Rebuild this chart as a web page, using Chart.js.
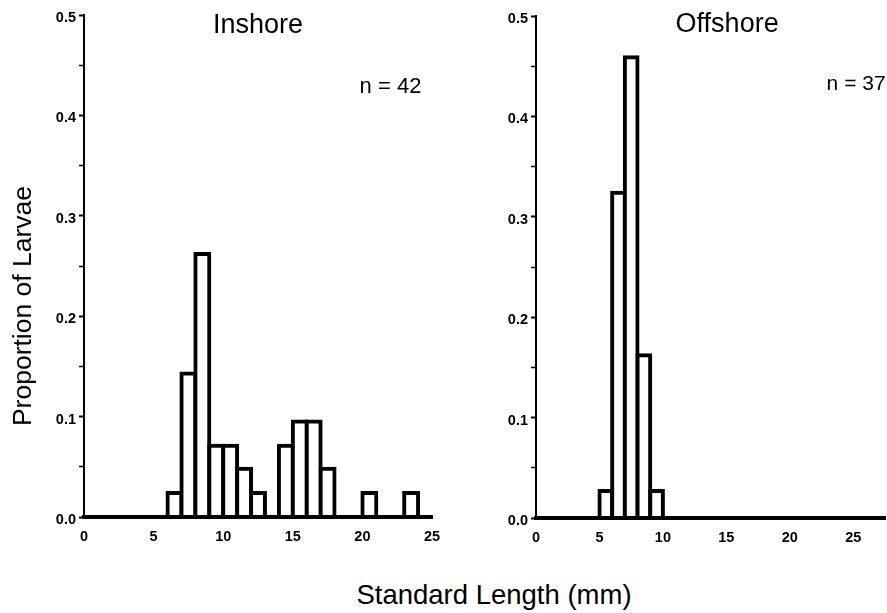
<!DOCTYPE html>
<html lang="en">
<head>
<meta charset="utf-8">
<title>Standard length of larvae, inshore vs offshore</title>
<script src="https://cdn.jsdelivr.net/npm/chart.js@4.4.0/dist/chart.umd.min.js"></script>
<style>
  body { margin: 0; background: #fff; width: 887px; height: 613px; position: relative; overflow: hidden;
         font-family: "Liberation Sans", Arial, sans-serif; color: #000; }
  .panel { position: absolute; top: 0; }
  #left { left: 0; }
  #right { left: 440px; }
  .axis-title { position: absolute; font-size: 27px; line-height: 32px; height: 32px;
                white-space: nowrap; text-align: center; }
  #ytitle { width: 300px; left: -128px; top: 290px; transform: rotate(-90deg); font-size: 26.5px; }
  #xtitle { width: 400px; left: 294px; top: 579px; font-size: 27.5px; }
</style>
</head>
<body>
<div class="panel" id="left"><canvas id="inshoreChart" width="460" height="560"></canvas></div>
<div class="panel" id="right"><canvas id="offshoreChart" width="447" height="560"></canvas></div>
<div class="axis-title" id="ytitle">Proportion of Larvae</div>
<div class="axis-title" id="xtitle">Standard Length (mm)</div>
<script>
// 1 mm length classes (lower edge of each bin)
const inshoreBinStart = [0, 1, 2, 3, 4, 5, 6, 7, 8, 9, 10, 11, 12, 13, 14, 15, 16, 17, 18, 19, 20, 21, 22, 23, 24];
const inshoreProportion = [0, 0, 0, 0, 0, 0, 0.024, 0.143, 0.262, 0.071, 0.071, 0.048, 0.024, 0,
                           0.071, 0.095, 0.095, 0.048, 0, 0, 0.024, 0, 0, 0.024, 0];

const offshoreBinStart = [0, 1, 2, 3, 4, 5, 6, 7, 8, 9, 10, 11, 12, 13, 14, 15, 16, 17, 18, 19, 20, 21, 22, 23, 24, 25, 26];
const offshoreProportion = [0, 0, 0, 0, 0, 0.027, 0.324, 0.459, 0.162, 0.027, 0, 0, 0, 0,
                            0, 0, 0, 0, 0, 0, 0, 0, 0, 0, 0, 0, 0];

const xTickStep = 5;
const yTickLabels = ['0.0', '0.1', '0.2', '0.3', '0.4', '0.5'];

Chart.defaults.font.family = '"Liberation Sans", Arial, sans-serif';
Chart.defaults.color = '#000';

// panel title and sample size, placed in data coordinates
const panelText = {
  id: 'panelText',
  afterDraw(chart, args, opts) {
    const { ctx, scales: { x, y } } = chart;
    ctx.save();
    ctx.fillStyle = '#000';
    ctx.textBaseline = 'alphabetic';
    ctx.font = '27px "Liberation Sans", Arial, sans-serif';
    ctx.textAlign = 'center';
    ctx.fillText(opts.title, x.getPixelForValue(opts.titleAt[0]), y.getPixelForValue(opts.titleAt[1]));
    ctx.font = opts.noteSize + 'px "Liberation Sans", Arial, sans-serif';
    ctx.textAlign = 'left';
    ctx.fillText(opts.note, x.getPixelForValue(opts.noteAt[0]), y.getPixelForValue(opts.noteAt[1]));
    ctx.restore();
  }
};

function isMajor(v) {
  return Math.abs(v * 10 - Math.round(v * 10)) < 1e-6;
}

function makeHistogram(canvasId, bins, values, cfg) {
  return new Chart(document.getElementById(canvasId), {
    type: 'bar',
    data: {
      labels: bins.map(b => b + 0.5),
      datasets: [{
        data: values,
        backgroundColor: '#fff',
        borderColor: '#000',
        borderWidth: 4,
        inflateAmount: 2,
        barPercentage: 1,
        categoryPercentage: 1,
        clip: false
      }]
    },
    options: {
      responsive: false,
      animation: false,
      events: [],
      layout: { padding: cfg.padding },
      plugins: {
        legend: { display: false },
        tooltip: { enabled: false },
        panelText: cfg.text
      },
      scales: {
        x: {
          type: 'linear',
          min: 0,
          max: cfg.xMax,
          offset: false,
          grid: { display: true, drawOnChartArea: false, drawTicks: false, offset: false, z: 1 },
          border: { color: '#000', width: 4, z: 1 },
          ticks: {
            stepSize: xTickStep,
            includeBounds: false,
            padding: 11,
            maxRotation: 0,
            font: { size: 14.5, weight: 'bold' }
          },
          afterFit: s => { s.height = cfg.xHeight; }
        },
        y: {
          min: 0,
          max: 0.5,
          grid: {
            drawOnChartArea: false,
            drawTicks: true,
            tickLength: 5,
            tickColor: '#000',
            tickWidth: c => (c.tick && isMajor(c.tick.value) ? 2 : 1.5),
            z: 1
          },
          border: { color: '#000', width: 2, z: 1 },
          ticks: {
            stepSize: 0.05,
            padding: 3,
            labelOffset: 3,
            font: { size: 14.5, weight: 'bold' },
            callback: v => (isMajor(v) ? yTickLabels[Math.round(v * 10)] : '')
          },
          afterFit: s => { s.width = cfg.yWidth; }
        }
      }
    },
    plugins: [panelText]
  });
}

makeHistogram('inshoreChart', inshoreBinStart, inshoreProportion, {
  padding: { top: 15, right: 28, bottom: 0, left: 0 },
  xMax: 25,
  xHeight: 43,
  yWidth: 84,
  text: { title: 'Inshore', titleAt: [12.5, 0.482], note: 'n = 42', noteSize: 22, noteAt: [19.8, 0.422] }
});

makeHistogram('offshoreChart', offshoreBinStart, offshoreProportion, {
  padding: { top: 16, right: 2, bottom: 0, left: 0 },
  xMax: 27.5,
  xHeight: 42,
  yWidth: 96,
  text: { title: 'Offshore', titleAt: [15.06, 0.484], note: 'n = 37', noteSize: 21, noteAt: [22.9, 0.426] }
});
</script>
</body>
</html>
